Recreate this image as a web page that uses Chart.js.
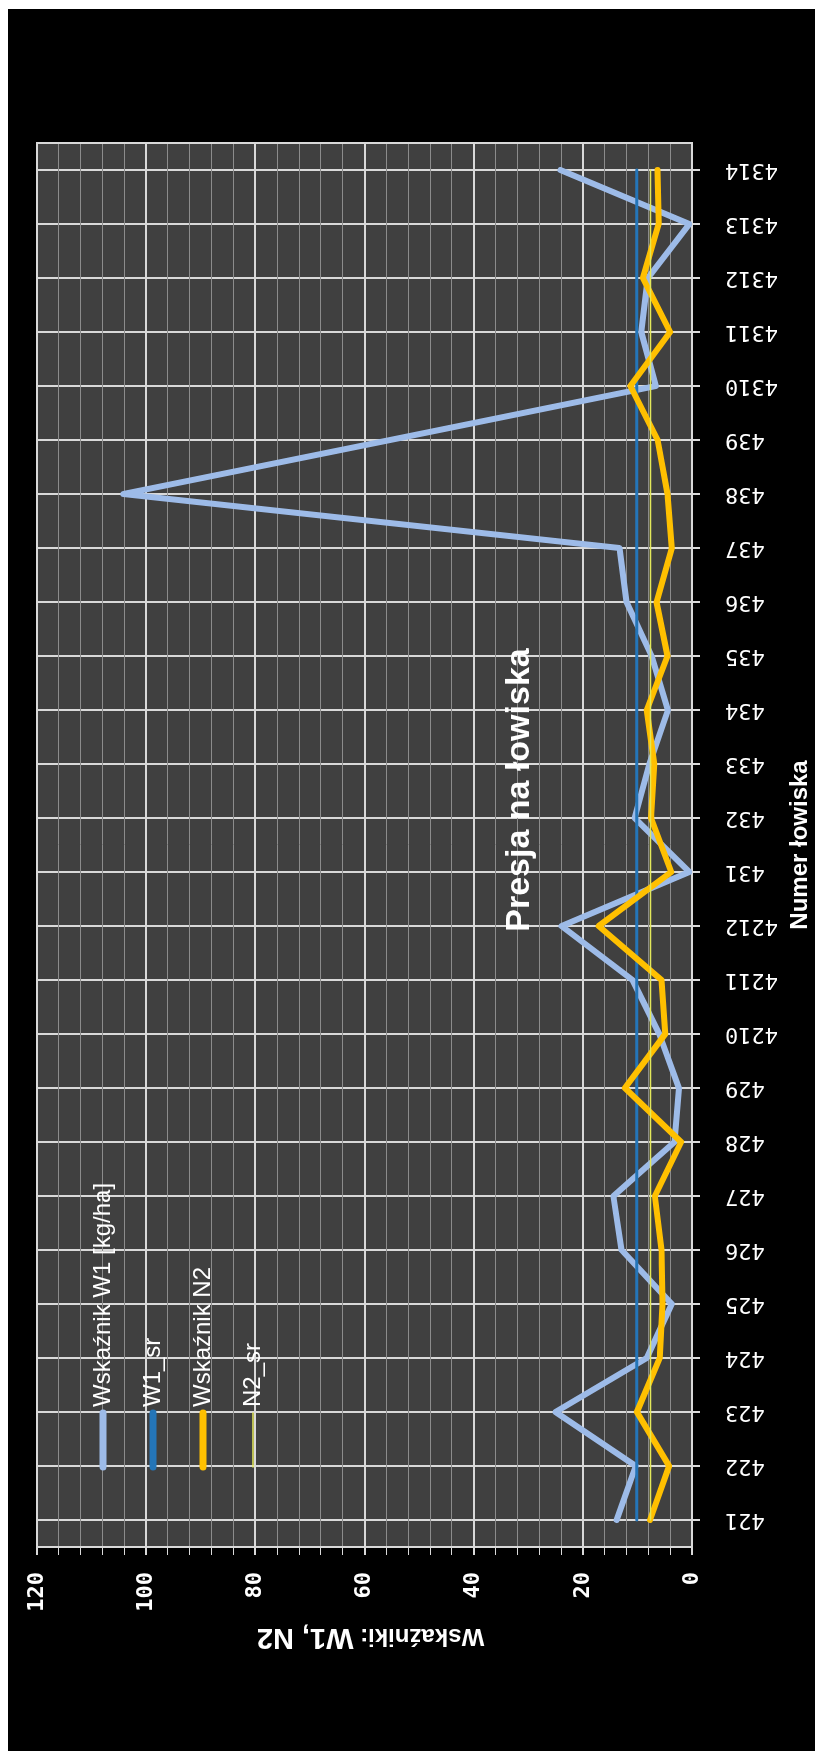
<!DOCTYPE html>
<html>
<head>
<meta charset="utf-8">
<script src="https://cdn.jsdelivr.net/npm/chart.js@4.4.0/dist/chart.umd.min.js"></script>
<style>
  html, body { margin: 0; padding: 0; background: #fff; }
  body { width: 815px; height: 1751px; overflow: hidden; position: relative; }
  /* chart is drawn landscape, then turned to match the portrait picture */
  #wrap {
    position: absolute; left: 0; top: 0;
    width: 1751px; height: 815px;
    transform-origin: 0 0;
    transform: translate(0, 1751px) rotate(-90deg);
  }
  #bg { position: absolute; left: 0; top: 8px; width: 1742px; height: 807px; background: #000; }
  #presja { position: absolute; left: 0; top: 0; }
</style>
</head>
<body>
<div id="wrap">
  <div id="bg"></div>
  <canvas id="presja" width="1751" height="815"></canvas>
</div>
<script>
const chartTitle = 'Presja na łowiska';
const xTitle = 'Numer łowiska';
const yTitleParts = ['Wskaźniki: ', 'W1, N2'];

const labels = ['421', '422', '423', '424', '425', '426', '427', '428', '429', '4210', '4211', '4212',
  '431', '432', '433', '434', '435', '436', '437', '438', '439', '4310', '4311', '4312', '4313', '4314'];

const w1 = [13.8, 10.3, 25.0, 8.3, 3.7, 12.9, 14.4, 3.2, 2.4, 6.0, 10.9, 23.9,
  0.5, 10.5, 7.8, 4.4, 7.4, 12.0, 13.3, 104.2, 55.3, 6.6, 9.3, 8.1, 0.5, 24.1];

const w1Sr = [10.1, 10.1, 10.1, 10.1, 10.1, 10.1, 10.1, 10.1, 10.1, 10.1, 10.1, 10.1, 10.1,
  10.1, 10.1, 10.1, 10.1, 10.1, 10.1, 10.1, 10.1, 10.1, 10.1, 10.1, 10.1, 10.1];

const n2 = [7.7, 4.2, 10.1, 5.9, 5.4, 5.6, 6.8, 2.0, 12.3, 4.9, 5.6, 17.1,
  3.8, 7.5, 6.9, 8.3, 4.5, 6.5, 3.7, 4.5, 6.3, 11.3, 4.0, 9.0, 6.1, 6.3];

const n2Sr = [7.6, 7.6, 7.6, 7.6, 7.6, 7.6, 7.6, 7.6, 7.6, 7.6, 7.6, 7.6, 7.6,
  7.6, 7.6, 7.6, 7.6, 7.6, 7.6, 7.6, 7.6, 7.6, 7.6, 7.6, 7.6, 7.6];

// gray plot background + white frame
const plotFrame = {
  id: 'plotFrame',
  beforeDraw(chart) {
    const { ctx, chartArea: a } = chart;
    ctx.save();
    ctx.fillStyle = '#404040';
    ctx.fillRect(a.left, a.top, a.right - a.left, a.bottom - a.top);
    ctx.restore();
  },
  beforeDatasetsDraw(chart) {
    const { ctx, chartArea: a } = chart;
    ctx.save();
    ctx.strokeStyle = '#d9d9d9';
    ctx.lineWidth = 2;
    ctx.strokeRect(a.left, a.top, a.right - a.left, a.bottom - a.top);
    ctx.restore();
  }
};

// legend sits inside the plot, top left
const insideLegend = {
  id: 'insideLegend',
  afterDatasetsDraw(chart) {
    const { ctx, chartArea: a } = chart;
    ctx.save();
    ctx.font = '24px "Liberation Sans"';
    ctx.textBaseline = 'middle';
    ctx.fillStyle = '#ffffff';
    ctx.lineCap = 'round';
    chart.data.datasets.forEach((ds, i) => {
      const x = a.left + 77;
      const y = a.top + 66 + i * 50;
      ctx.strokeStyle = ds.borderColor;
      ctx.lineWidth = ds.legendWidth;
      ctx.beginPath();
      ctx.moveTo(x + 3, y);
      ctx.lineTo(x + 57, y);
      ctx.stroke();
      ctx.fillText(ds.label, x + 63, y);
    });
    ctx.restore();
  }
};

// title inside the plot + two-size y axis title
const texts = {
  id: 'texts',
  afterDraw(chart) {
    const { ctx, chartArea: a } = chart;
    ctx.save();
    ctx.fillStyle = '#ffffff';
    ctx.font = 'bold 34px "Liberation Sans"';
    ctx.textAlign = 'center';
    ctx.textBaseline = 'middle';
    ctx.fillText(chartTitle, 961, 520);

    const f1 = 'bold 24px "Liberation Sans"';
    const f2 = 'bold 29px "Liberation Sans"';
    ctx.font = f1;
    const w1t = ctx.measureText(yTitleParts[0]).width;
    ctx.font = f2;
    const w2t = ctx.measureText(yTitleParts[1]).width;
    ctx.translate(113, (a.top + a.bottom) / 2 + 6);
    ctx.rotate(-Math.PI / 2);
    ctx.textAlign = 'left';
    ctx.textBaseline = 'alphabetic';
    const start = -(w1t + w2t) / 2;
    ctx.font = f1;
    ctx.fillText(yTitleParts[0], start, 9);
    ctx.font = f2;
    ctx.fillText(yTitleParts[1], start + w1t, 9);
    ctx.restore();
  }
};

new Chart(document.getElementById('presja'), {
  type: 'line',
  data: {
    labels: labels,
    datasets: [
      { label: 'Wskaźnik W1 [kg/ha]', data: w1, borderColor: '#9dbbe8', borderWidth: 6, legendWidth: 7, order: 3 },
      { label: 'W1_sr', data: w1Sr, borderColor: '#2475b8', borderWidth: 3, legendWidth: 7, order: 2 },
      { label: 'Wskaźnik N2', data: n2, borderColor: '#ffc000', borderWidth: 6, legendWidth: 7, order: 1 },
      { label: 'N2_sr', data: n2Sr, borderColor: '#e3e85a', borderWidth: 1.5, legendWidth: 1.5, order: 0 }
    ]
  },
  options: {
    responsive: false,
    animation: false,
    layout: { padding: { left: 0, right: 143, top: 37, bottom: 0 } },
    plugins: {
      legend: { display: false },
      tooltip: { enabled: false }
    },
    elements: {
      point: { radius: 0 },
      line: { tension: 0, borderJoinStyle: 'round', borderCapStyle: 'round' }
    },
    scales: {
      x: {
        offset: true,
        grid: { offset: false, color: '#d9d9d9', lineWidth: 2, tickLength: 8 },
        border: { color: '#d9d9d9', width: 2 },
        ticks: {
          color: '#ffffff',
          font: { family: 'DejaVu Sans Mono', size: 22 },
          minRotation: 90, maxRotation: 90,
          padding: 25,
          autoSkip: false
        },
        title: {
          display: true, text: xTitle, color: '#ffffff',
          font: { family: 'Liberation Sans', size: 24, weight: 'bold' },
          padding: { top: 0, bottom: 0 }
        },
        afterFit(scale) { scale.height = 123; }
      },
      y: {
        min: 0, max: 120,
        ticks: {
          stepSize: 4,
          autoSkip: false,
          callback: v => (v % 20 === 0 ? v : ''),
          color: '#ffffff',
          font: { family: 'DejaVu Sans Mono', size: 22, weight: 'bold' },
          padding: 17
        },
        grid: {
          color: c => (c.tick && c.tick.value % 20 === 0 ? '#d9d9d9' : '#8c8c8c'),
          lineWidth: c => (c.tick && c.tick.value % 20 === 0 ? 2 : 1),
          tickColor: '#d9d9d9',
          tickLength: 8
        },
        border: { color: '#d9d9d9', width: 2 },
        afterFit(scale) { scale.width = 204; }
      }
    }
  },
  plugins: [plotFrame, insideLegend, texts]
});
</script>
</body>
</html>
